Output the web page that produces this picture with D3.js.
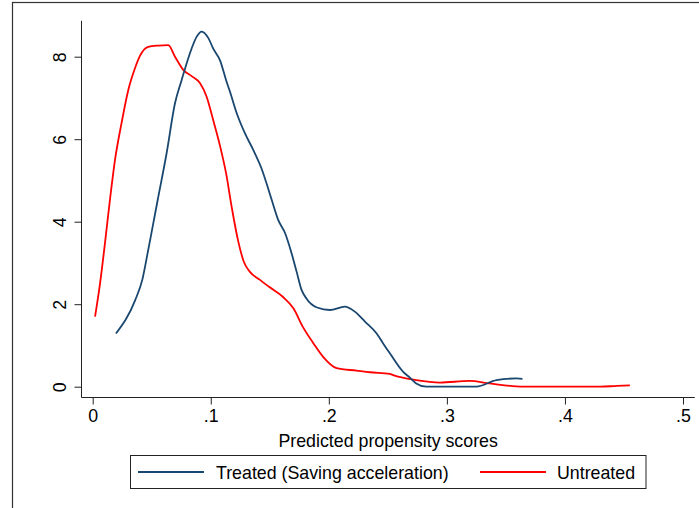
<!DOCTYPE html>
<meta charset="utf-8">
<title>Predicted propensity scores</title>
<style>
  body { margin: 0; background: #fff; }
  svg { display: block; font-family: "Liberation Sans", Arial, sans-serif; }
</style>
<body>
<script src="https://cdn.jsdelivr.net/npm/d3@7"></script>
<script>
// kernel density, treated group (propensity score, density)
const treatedX = [0.0197, 0.036, 0.042, 0.047, 0.0513, 0.055, 0.0626, 0.0697, 0.0753, 0.0838, 0.088, 0.0923,
  0.098, 0.102, 0.108, 0.113, 0.1163, 0.122, 0.129, 0.136, 0.143, 0.149, 0.1516, 0.157, 0.163, 0.1685,
  0.1727, 0.177, 0.181, 0.19, 0.201, 0.2136, 0.222, 0.2306, 0.2405, 0.246, 0.2517, 0.263, 0.2687, 0.274,
  0.2828, 0.325, 0.342, 0.359, 0.364];
const treatedY = [1.29, 2.1, 2.59, 3.31, 3.96, 4.52, 5.66, 6.87, 7.43, 8.2, 8.48, 8.61,
  8.45, 8.2, 7.9, 7.43, 7.15, 6.63, 6.14, 5.74, 5.29, 4.77, 4.53, 4.05, 3.72, 3.23,
  2.79, 2.34, 2.14, 1.92, 1.86, 1.94, 1.82, 1.58, 1.29, 1.05, 0.81, 0.36, 0.22, 0.08,
  0, 0, 0.16, 0.2, 0.19];

// kernel density, untreated group
const untreatedX = [0.002, 0.0062, 0.0104, 0.0146, 0.0189, 0.0245, 0.0302, 0.0358, 0.04, 0.047, 0.0556, 0.064,
  0.0697, 0.0767, 0.0838, 0.0908, 0.0965, 0.102, 0.108, 0.113, 0.1177, 0.123, 0.128, 0.133, 0.1417,
  0.15, 0.161, 0.17, 0.178, 0.187, 0.195, 0.2066, 0.2235, 0.235, 0.2517, 0.2545, 0.274, 0.294,
  0.319, 0.336, 0.3646, 0.43, 0.444, 0.455];
const untreatedY = [1.7, 2.5, 3.48, 4.53, 5.5, 6.4, 7.2, 7.72, 8.02, 8.24, 8.27, 8.28,
  8.0, 7.68, 7.53, 7.36, 7.03, 6.47, 5.82, 5.17, 4.36, 3.56, 3.03, 2.79, 2.59,
  2.41, 2.18, 1.9, 1.45, 1.05, 0.73, 0.45, 0.39, 0.35, 0.31, 0.28, 0.16, 0.1,
  0.14, 0.08, 0, 0, 0.02, 0.03];

const xTicks = [0, 0.1, 0.2, 0.3, 0.4, 0.5];
const yTicks = [0, 2, 4, 6, 8];
const seriesNames = ["Treated (Saving acceleration)", "Untreated"];
const seriesColors = ["#1a476f", "#ff0000"];

const width = 699, height = 508;
const fontSize = 17.8;

const svg = d3.select("body").append("svg")
    .attr("width", width)
    .attr("height", height);

// outer graph border (runs off the right and bottom edges)
svg.append("rect")
    .attr("x", 12.5).attr("y", 2.5)
    .attr("width", width + 20).attr("height", height + 20)
    .attr("fill", "none")
    .attr("stroke", "#333")
    .attr("stroke-width", 1.2);

const x = d3.scaleLinear().domain([0, 0.5]).range([92.7, 683]);
const y = d3.scaleLinear().domain([0, 8]).range([386.7, 56.7]);

const plotLeft = 81.5, plotBottom = 397.5;

// axis lines
svg.append("line")
    .attr("x1", plotLeft).attr("x2", plotLeft)
    .attr("y1", y(8.87)).attr("y2", plotBottom)
    .attr("stroke", "#222");
svg.append("line")
    .attr("x1", plotLeft).attr("x2", x(0.51))
    .attr("y1", plotBottom).attr("y2", plotBottom)
    .attr("stroke", "#222");

const fmt = d => d === 0 ? "0" : String(d).replace(/^0/, "");

const gx = svg.append("g")
    .attr("transform", `translate(0,${plotBottom})`)
    .call(d3.axisBottom(x).tickValues(xTicks).tickSize(7).tickPadding(5).tickFormat(fmt))
    .attr("font-size", fontSize)
    .attr("font-family", null);
gx.select(".domain").remove();
gx.selectAll(".tick line").attr("stroke", "#222");

const gy = svg.append("g")
    .attr("transform", `translate(${plotLeft},0)`)
    .call(d3.axisLeft(y).tickValues(yTicks).tickSize(7).tickFormat(d3.format("d")))
    .attr("font-size", fontSize)
    .attr("font-family", null);
gy.select(".domain").remove();
gy.selectAll(".tick line").attr("stroke", "#222");
gy.selectAll(".tick text")
    .attr("x", null).attr("dy", null)
    .attr("text-anchor", "middle")
    .attr("transform", "translate(-15.5,0) rotate(-90)");

// x axis title
svg.append("text")
    .attr("x", (plotLeft + x(0.51)) / 2)
    .attr("y", 447)
    .attr("text-anchor", "middle")
    .attr("font-size", fontSize)
    .text("Predicted propensity scores");

// density curves
const line = d3.line()
    .x(d => x(d[0]))
    .y(d => y(d[1]))
    .curve(d3.curveMonotoneX);

const treated = d3.zip(treatedX, treatedY);
const untreated = d3.zip(untreatedX, untreatedY);

svg.append("path")
    .datum(untreated)
    .attr("d", line)
    .attr("fill", "none")
    .attr("stroke", seriesColors[1])
    .attr("stroke-width", 1.8);

svg.append("path")
    .datum(treated)
    .attr("d", line)
    .attr("fill", "none")
    .attr("stroke", seriesColors[0])
    .attr("stroke-width", 1.8);

// legend
const legend = svg.append("g");
legend.append("rect")
    .attr("x", 130.5).attr("y", 455.5)
    .attr("width", 515.5).attr("height", 33)
    .attr("fill", "#fff")
    .attr("stroke", "#222");

const legendItems = [
  { name: seriesNames[0], color: seriesColors[0], x0: 138, tx: 216 },
  { name: seriesNames[1], color: seriesColors[1], x0: 480, tx: 557 }
];
legendItems.forEach(item => {
  legend.append("line")
      .attr("x1", item.x0).attr("x2", item.x0 + 66)
      .attr("y1", 472).attr("y2", 472)
      .attr("stroke", item.color)
      .attr("stroke-width", 1.8);
  legend.append("text")
      .attr("x", item.tx).attr("y", 478.5)
      .attr("font-size", fontSize)
      .text(item.name);
});
</script>
</body>
